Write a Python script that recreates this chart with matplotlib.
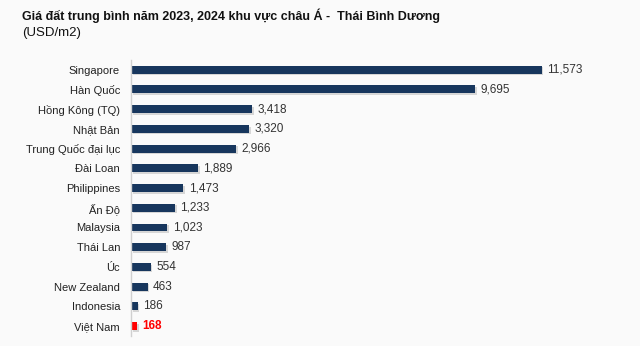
import matplotlib.pyplot as plt

plt.rcParams['font.family'] = ['Liberation Sans', 'DejaVu Sans']

countries = ["Singapore", "Hàn Quốc", "Hồng Kông (TQ)", "Nhật Bản", "Trung Quốc đại lục",
             "Đài Loan", "Philippines", "Ấn Độ", "Malaysia", "Thái Lan", "Úc",
             "New Zealand", "Indonesia", "Việt Nam"]
prices = [11573, 9695, 3418, 3320, 2966, 1889, 1473, 1233, 1023, 987, 554, 463, 186, 168]

bg = "#fafafa"
navy = "#17365d"
fig = plt.figure(figsize=(6.4, 3.46), dpi=100, facecolor=bg)
ax = fig.add_axes([0.205, 0.029, 0.776, 0.798], facecolor=bg)

y = list(range(len(countries)))
colors = [navy] * (len(countries) - 1) + ["#ff0000"]

# subtle drop shadow
ax.barh([v + 0.08 for v in y], prices, height=0.4, left=45, color="#d6d6d6", zorder=1)
ax.barh(y, prices, height=0.4, color=colors, zorder=2)

for i, v in enumerate(prices):
    last = i == len(prices) - 1
    ax.text(v + 150, i, f"{v:,}", va="center", ha="left", fontsize=8.5,
            color="#ff0000" if last else "#333333",
            fontweight="bold" if last else "normal")

ax.set_xlim(0, 14000)
ax.set_ylim(13.5, -0.5)
ax.set_yticks(y)
ax.set_yticklabels(countries, fontsize=8, color="#222222")
ax.tick_params(axis="y", length=0, pad=8)
ax.set_xticks([])
for s in ["top", "right", "bottom"]:
    ax.spines[s].set_visible(False)
ax.spines["left"].set_color("#d0d0d0")
ax.spines["left"].set_linewidth(1)

fig.text(0.034, 0.955, "Giá đất trung bình năm 2023, 2024 khu vực châu Á -  Thái Bình Dương",
         fontsize=9, fontweight="bold", color="#111111", va="center")
fig.text(0.034, 0.905, "(USD/m2)", fontsize=9.5, color="#111111", va="center")

fig.savefig("out.png", dpi=100, facecolor=bg)
